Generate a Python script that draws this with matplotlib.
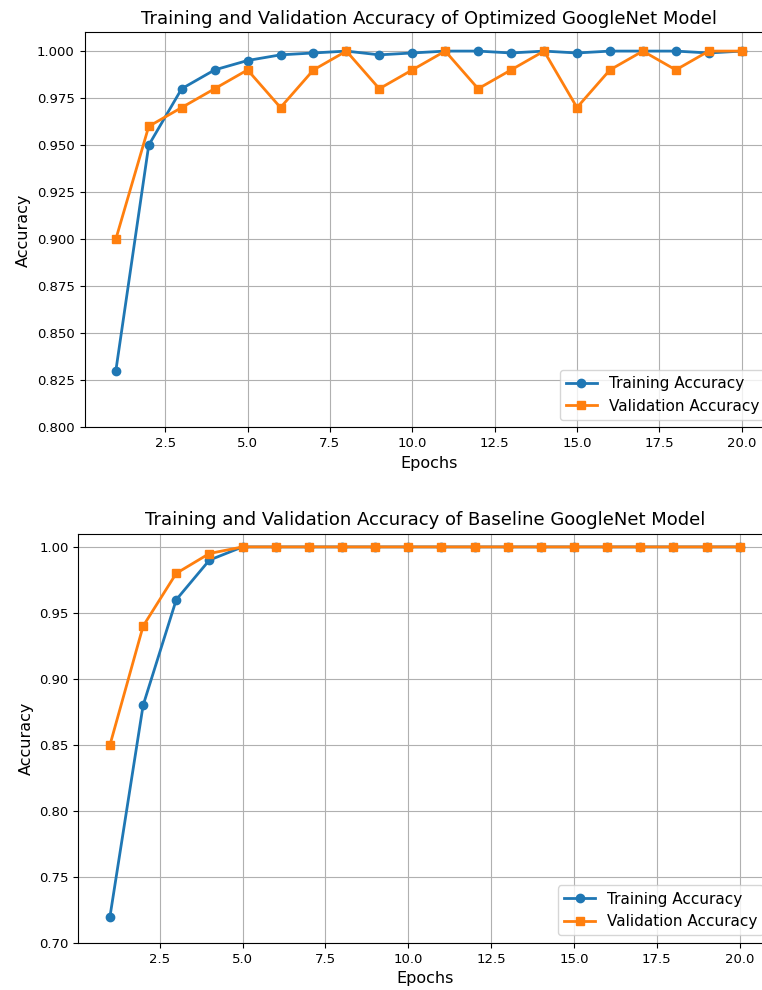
import numpy as np
import matplotlib
matplotlib.use("Agg")
import matplotlib.pyplot as plt

epochs = list(range(1, 21))

# optimized model
opt_train = [0.83, 0.95, 0.98, 0.99, 0.995, 0.998, 0.999, 1.0, 0.998, 0.999,
             1.0, 1.0, 0.999, 1.0, 0.999, 1.0, 1.0, 1.0, 0.999, 1.0]
opt_val = [0.90, 0.96, 0.97, 0.98, 0.99, 0.97, 0.99, 1.0, 0.98, 0.99,
           1.0, 0.98, 0.99, 1.0, 0.97, 0.99, 1.0, 0.99, 1.0, 1.0]

# baseline model
base_train = [0.72, 0.88, 0.96, 0.99, 1.0, 1.0, 1.0, 1.0, 1.0, 1.0,
              1.0, 1.0, 1.0, 1.0, 1.0, 1.0, 1.0, 1.0, 1.0, 1.0]
base_val = [0.85, 0.94, 0.98, 0.995, 1.0, 1.0, 1.0, 1.0, 1.0, 1.0,
            1.0, 1.0, 1.0, 1.0, 1.0, 1.0, 1.0, 1.0, 1.0, 1.0]

fig = plt.figure(figsize=(7.62, 9.9), dpi=100)

def draw(ax, train, val, title, ylim, yfmt):
    ax.plot(epochs, train, marker='o', lw=2, ms=6, label='Training Accuracy')
    ax.plot(epochs, val, marker='s', lw=2, ms=6, label='Validation Accuracy')
    ax.set_title(title, fontsize=13)
    ax.set_xlabel('Epochs', fontsize=11.5)
    ax.set_ylabel('Accuracy', fontsize=11.5)
    ax.set_ylim(*ylim)
    ax.yaxis.set_major_formatter(plt.FormatStrFormatter(yfmt))
    ax.tick_params(labelsize=9.5)
    ax.grid(True)
    ax.legend(loc='lower right', fontsize=11)

ax1 = fig.add_axes([0.1109, 0.5682, 0.9035, 0.3992])
draw(ax1, opt_train, opt_val,
     'Training and Validation Accuracy of Optimized GoogleNet Model',
     (0.8, 1.01), '%.3f')

ax2 = fig.add_axes([0.103, 0.0475, 0.909, 0.4134])
draw(ax2, base_train, base_val,
     'Training and Validation Accuracy of Baseline GoogleNet Model',
     (0.7, 1.01), '%.2f')

fig.savefig('out.png', dpi=100)
